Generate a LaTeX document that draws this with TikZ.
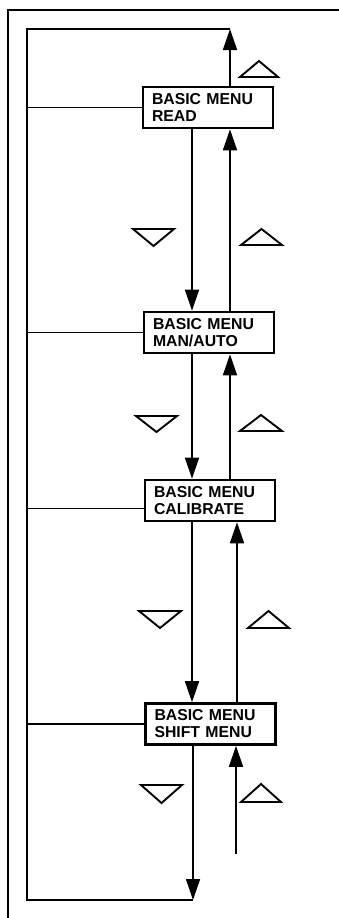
\documentclass[tikz,border=0pt]{standalone}
\usepackage{fontspec}
\setmainfont{Liberation Sans}
\usetikzlibrary{arrows.meta}
\begin{document}
\begin{tikzpicture}[x=1pt,y=-1pt,
  menubox/.style={draw,line width=2.6pt,minimum width=130pt,minimum height=41pt,
    text width=112pt,inner xsep=9pt,inner ysep=2pt,align=left,
    font=\bfseries\fontsize{15.8}{17}\selectfont},
  conn/.style={line width=1.6pt},
  arr/.style={conn,-{Triangle[length=21pt,width=14pt]}},
  tri/.style={line width=1.9pt,line join=miter},
  frameline/.style={line width=2.8pt}]
\useasboundingbox (0,0) rectangle (339,918);
% outer frame (open to right and bottom)
\draw[frameline] (8,918) -- (8,10) -- (339,10);
% menu boxes
\node[menubox] (READ)  at (208,107.5) {BASIC MENU\\READ};
\node[menubox] (MAN)   at (209,332.5) {BASIC MENU\\MAN/AUTO};
\node[menubox] (CAL)   at (210,500.5) {BASIC MENU\\CALIBRATE};
\node[menubox] (SHIFT) at (210.5,724) {BASIC MENU\\SHIFT MENU};
% helper coordinates
\coordinate (dx) at (192,0);
\coordinate (ux) at (230,0);
\coordinate (ux2) at (237,0);
\coordinate (tl) at (27,29);
\coordinate (tr) at (230,29);
\coordinate (bl) at (27,900);
\coordinate (br) at (193,900);
\coordinate (us) at (236,854);
% outer loop
\draw[arr] (READ.north -| ux) -- (tr);
\draw[conn] (tr) -- (tl) -- (bl) -- (br);
% left branches
\draw[conn] (READ.west) -- (READ.west -| tl);
\draw[conn] (MAN.west) -- (MAN.west -| tl);
\draw[conn] ([yshift=-8pt]CAL.west) -- ([yshift=-8pt]CAL.west -| tl);
\draw[conn] (SHIFT.west) -- (SHIFT.west -| tl);
% down arrows
\draw[arr] (READ.south -| dx) -- (MAN.north -| dx);
\draw[arr] (MAN.south -| dx) -- (CAL.north -| dx);
\draw[arr] (CAL.south -| dx) -- (SHIFT.north -| dx);
\draw[arr] (SHIFT.south -| br) -- (br);
% up arrows
\draw[arr] (MAN.north -| ux) -- (READ.south -| ux);
\draw[arr] (CAL.north -| ux) -- (MAN.south -| ux);
\draw[arr] (SHIFT.north -| ux2) -- (CAL.south -| ux2);
\draw[arr] (us) -- (SHIFT.south -| us);
% down triangles
\draw[tri] (133,229) -- (174,229) -- (153.5,246) -- cycle;
\draw[tri] (136,416) -- (177,416) -- (156.5,432) -- cycle;
\draw[tri] (139,611) -- (181,611) -- (160,628) -- cycle;
\draw[tri] (141,785) -- (182,785) -- (161.5,803) -- cycle;
% up triangles
\draw[tri] (240,77) -- (278,77) -- (259,61) -- cycle;
\draw[tri] (241,245) -- (282,245) -- (261.5,229) -- cycle;
\draw[tri] (240,431) -- (282,431) -- (261,415) -- cycle;
\draw[tri] (248,628) -- (289,628) -- (268.5,611) -- cycle;
\draw[tri] (241,802) -- (281,802) -- (261,784) -- cycle;
\end{tikzpicture}
\end{document}
